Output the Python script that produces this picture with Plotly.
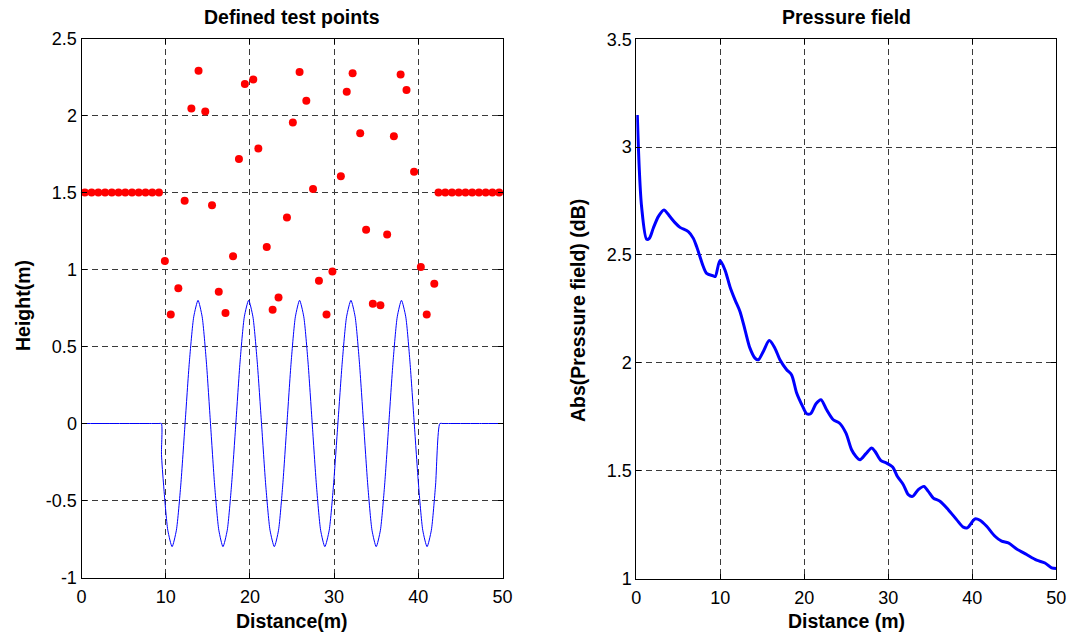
import plotly.graph_objects as go
from plotly.subplots import make_subplots

# ---------------- data ----------------
# Terrain profile (left panel, blue line)
terrain_x = [0, 3.0, 6.0, 8.5, 9.2, 9.49, 9.50, 9.75, 10.25, 10.76,
             11.27, 11.79, 12.30, 12.81, 13.33, 13.84,
             14.33, 14.83, 15.32, 15.81, 16.31, 16.80,
             17.31, 17.82, 18.33, 18.83, 19.34, 19.85,
             20.36, 20.87, 21.38, 21.88, 22.39, 22.90,
             23.40, 23.90, 24.40, 24.90, 25.40, 25.90,
             26.40, 26.90, 27.40, 27.90, 28.40, 28.90,
             29.42, 29.93, 30.45, 30.97, 31.48, 32.00,
             32.50, 33.00, 33.50, 34.00, 34.50, 35.00,
             35.50, 36.00, 36.50, 37.00, 37.50, 38.00,
             38.51, 39.01, 39.52, 40.03, 40.53, 41.04,
             41.55, 42.05, 42.56, 42.9, 43.6, 45.0, 47.5, 50]
terrain_y = [0, 0, 0, 0, 0, 0, -0.20, -0.40, -0.693, -0.80,
             -0.693, -0.40, 0, 0.40, 0.693, 0.80,
             0.693, 0.40, 0, -0.40, -0.693, -0.80,
             -0.693, -0.40, 0, 0.40, 0.693, 0.80,
             0.693, 0.40, 0, -0.40, -0.693, -0.80,
             -0.693, -0.40, 0, 0.40, 0.693, 0.80,
             0.693, 0.40, 0, -0.40, -0.693, -0.80,
             -0.693, -0.40, 0, 0.40, 0.693, 0.80,
             0.693, 0.40, 0, -0.40, -0.693, -0.80,
             -0.693, -0.40, 0, 0.40, 0.693, 0.80,
             0.693, 0.40, 0, -0.40, -0.693, -0.80,
             -0.693, -0.40, 0, 0, 0, 0, 0, 0]

# Test points (left panel, red dots)
flat_left_x = [0.4, 1.2, 2.0, 2.8, 3.6, 4.4, 5.2, 6.0, 6.8, 7.6, 8.4, 9.2]
flat_right_x = [42.4, 43.2, 44.0, 44.8, 45.6, 46.4, 47.2, 48.0, 48.8, 49.6]
flat_height = 1.5
scatter_x = [13.9, 19.4, 20.4, 25.9, 26.7, 25.1, 32.2, 31.5, 37.9, 38.6,
             13.05, 14.7, 33.1, 37.1, 21.0, 18.7, 39.5, 30.8, 27.5, 12.25, 15.5,
             9.9, 11.5, 10.6, 18.0, 16.3, 17.1, 22.0, 24.4, 23.4, 22.7,
             28.2, 29.8, 29.1, 33.8, 36.3, 34.6, 35.5, 40.3, 41.9, 41.0]
scatter_y = [2.29, 2.204, 2.234, 2.283, 2.095, 1.955, 2.275, 2.155, 2.267, 2.165,
             2.045, 2.026, 1.884, 1.865, 1.786, 1.717, 1.635, 1.605, 1.523, 1.446, 1.417,
             1.056, 0.878, 0.708, 1.086, 0.856, 0.717, 1.146, 1.337, 0.818, 0.738,
             0.927, 0.987, 0.708, 1.258, 1.227, 0.777, 0.768, 1.017, 0.908, 0.708]

# Pressure field (right panel)
press_x = [0.12, 0.36, 0.63, 1.23, 1.55, 2.02, 2.62, 3.29, 4.0, 4.6, 5.2, 6.19,
           6.79, 7.18, 7.58, 7.9, 8.37, 9.17, 9.4, 9.96, 10.56, 11.15, 11.75,
           12.34, 12.94, 13.53, 14.13, 14.52, 15.12, 15.83, 16.5, 17.1, 17.9,
           18.49, 19.09, 19.8, 20.28, 20.75, 21.39, 21.98, 22.66, 23.45, 24.17,
           24.96, 25.63, 26.15, 26.63, 27.34, 28.02, 28.41, 29.09, 29.8, 30.52,
           31.07, 31.79, 32.38, 32.9, 33.57, 34.25, 34.76, 35.36, 36.15, 37.14,
           38.13, 38.93, 39.4, 40.32, 40.91, 41.71, 42.7, 43.49, 44.29, 45.28,
           46.47, 47.66, 48.65, 49.44, 50.0]
press_y = [3.149, 2.894, 2.724, 2.573, 2.577, 2.624, 2.678, 2.709, 2.678, 2.65,
           2.628, 2.608, 2.577, 2.539, 2.492, 2.454, 2.415, 2.403, 2.40, 2.474,
           2.43, 2.353, 2.292, 2.238, 2.153, 2.068, 2.022, 2.014, 2.053, 2.103,
           2.068, 2.014, 1.968, 1.944, 1.86, 1.798, 1.764, 1.764, 1.81, 1.829,
           1.782, 1.736, 1.721, 1.674, 1.597, 1.566, 1.551, 1.579, 1.605, 1.59,
           1.548, 1.535, 1.517, 1.474, 1.435, 1.389, 1.381, 1.412, 1.427, 1.404,
           1.373, 1.358, 1.319, 1.273, 1.238, 1.235, 1.276, 1.27, 1.242, 1.196,
           1.173, 1.165, 1.137, 1.111, 1.085, 1.072, 1.049, 1.046]

# Tick labels
x_ticks = [0, 10, 20, 30, 40, 50]
x_tick_text = ["0", "10", "20", "30", "40", "50"]
left_y_ticks = [-1, -0.5, 0, 0.5, 1, 1.5, 2, 2.5]
left_y_text = ["-1", "-0.5", "0", "0.5", "1", "1.5", "2", "2.5"]
right_y_ticks = [1, 1.5, 2, 2.5, 3, 3.5]
right_y_text = ["1", "1.5", "2", "2.5", "3", "3.5"]

titles = ["Defined test points", "Pressure field"]
x_labels = ["Distance(m)", "Distance (m)"]
y_labels = ["Height(m)", "Abs(Pressure field) (dB)"]

# ---------------- figure ----------------
W, H = 1072, 639
FONT = "Liberation Sans, Arial, Helvetica, sans-serif"

fig = make_subplots(rows=1, cols=2)

fig.add_trace(go.Scatter(x=terrain_x, y=terrain_y, mode="lines",
                         line=dict(color="#0000ff", width=1, shape="spline", smoothing=0.6),
                         showlegend=False),
              row=1, col=1)
fig.add_trace(go.Scatter(x=flat_left_x + scatter_x + flat_right_x,
                         y=[flat_height] * len(flat_left_x) + scatter_y + [flat_height] * len(flat_right_x),
                         mode="markers", marker=dict(color="#ff0000", size=8, line=dict(width=0)),
                         showlegend=False, cliponaxis=False),
              row=1, col=1)
fig.add_trace(go.Scatter(x=press_x, y=press_y, mode="lines",
                         line=dict(color="#0000ff", width=3, shape="spline", smoothing=0.8),
                         showlegend=False),
              row=1, col=2)

def px_x(p):
    return p / W

def px_y(p):
    return 1 - p / H

axis_common = dict(
    showline=True, linecolor="black", linewidth=1, mirror="allticks",
    ticks="inside", ticklen=5, tickcolor="black", tickwidth=1,
    showgrid=True, gridcolor="#3a3a3a", gridwidth=1, griddash="6px,4px",
    zeroline=False, automargin=False,
    tickfont=dict(family=FONT, size=18, color="black"),
)
x_extra = dict(ticklabelstandoff=3)

fig.update_layout(
    width=W, height=H, margin=dict(l=0, r=0, t=0, b=0, pad=0, autoexpand=False),
    paper_bgcolor="white", plot_bgcolor="white",
    font=dict(family=FONT, color="black"),
    xaxis=dict(domain=[px_x(81.5), px_x(502.5)], range=[0, 50],
               tickvals=x_ticks, ticktext=x_tick_text, **axis_common, **x_extra),
    yaxis=dict(domain=[px_y(577.5), px_y(38.5)], range=[-1, 2.5],
               tickvals=left_y_ticks, ticktext=left_y_text, **axis_common),
    xaxis2=dict(domain=[px_x(636.3), px_x(1056.3)], range=[0, 50],
                tickvals=x_ticks, ticktext=x_tick_text, **axis_common, **x_extra),
    yaxis2=dict(domain=[px_y(578.5), px_y(39.3)], range=[1, 3.5],
                tickvals=right_y_ticks, ticktext=right_y_text, **axis_common),
)

bold = dict(family=FONT, size=19.5, color="black", weight="bold")
ann = [
    dict(text=titles[0], x=px_x(292), y=px_y(17), font=bold),
    dict(text=titles[1], x=px_x(846), y=px_y(17), font=bold),
    dict(text=x_labels[0], x=px_x(292), y=px_y(621), font=bold),
    dict(text=x_labels[1], x=px_x(846), y=px_y(621), font=bold),
    dict(text=y_labels[0], x=px_x(23), y=px_y(306), font=bold, textangle=-90),
    dict(text=y_labels[1], x=px_x(578), y=px_y(311), font=bold, textangle=-90),
]
for a in ann:
    fig.add_annotation(xref="paper", yref="paper", showarrow=False,
                       xanchor="center", yanchor="middle", **a)

fig.write_html("out.html")
